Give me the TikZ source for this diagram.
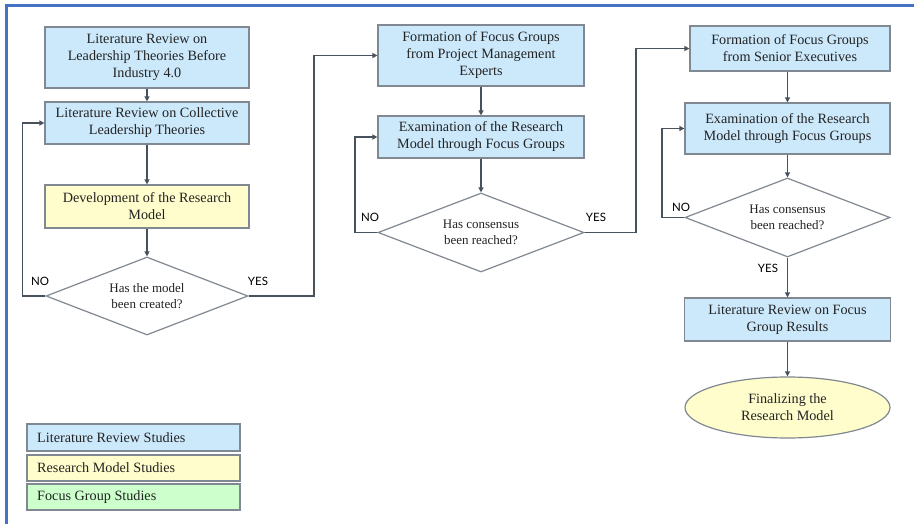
\documentclass[tikz,border=0pt]{standalone}
\usepackage{fontspec}
\setmainfont{Liberation Serif}
\newfontfamily\lblfont{Lato}
\usetikzlibrary{shapes.geometric,arrows.meta}
\definecolor{boxblue}{RGB}{204,233,252}
\definecolor{boxyellow}{RGB}{255,253,204}
\definecolor{boxgreen}{RGB}{204,255,204}
\definecolor{edgegray}{RGB}{128,136,145}
\definecolor{arrowgray}{RGB}{72,82,92}
\definecolor{textgray}{RGB}{35,35,35}
\definecolor{frameblue}{RGB}{68,114,196}
\tikzset{
  every node/.style={text=textgray},
  procbox/.style={draw=edgegray, line width=1.2pt, align=center, inner sep=2pt,
    font=\fontsize{14.2}{17}\selectfont},
  bluebox/.style={procbox, fill=boxblue},
  yellowbox/.style={procbox, fill=boxyellow},
  decision/.style={diamond, aspect=2.6, draw=edgegray, line width=1.2pt, fill=white,
    inner sep=0pt, align=center, font=\fontsize{13}{16}\selectfont},
  finalnode/.style={ellipse, draw=edgegray, line width=1.2pt, fill=boxyellow, inner sep=0pt,
    align=center, font=\fontsize{14.2}{17}\selectfont},
  legbox/.style={draw=edgegray, line width=1.2pt, minimum width=213pt, inner sep=0pt},
  legtext/.style={anchor=west, inner sep=0pt, font=\fontsize{14.2}{17}\selectfont},
  flow/.style={draw=arrowgray, line width=1.3pt, -{Triangle[length=5pt,width=5pt]}},
  yn/.style={font=\lblfont\fontsize{11.5}{12}\selectfont, inner sep=0pt, text=black},
}
\begin{document}
\begin{tikzpicture}[x=1pt,y=-1pt]
\useasboundingbox (0,0) rectangle (914,527);
\fill[white] (0,0) rectangle (914,527);
% frame
\draw[frameblue, line width=3pt] (914,6) -- (6,6) -- (6,524);

% column 1
\node[bluebox, minimum width=204pt, minimum height=61pt] (b1) at (147,57.5)
  {Literature Review on\\Leadership Theories Before\\Industry 4.0};
\node[bluebox, minimum width=204pt, minimum height=42pt] (b2) at (147,123)
  {Literature Review on Collective\\Leadership Theories};
\node[yellowbox, minimum width=204pt, minimum height=43pt] (b3) at (147,206.5)
  {Development of the Research\\Model};
\node[decision, minimum width=202pt, minimum height=78pt] (d1) at (147,296)
  {Has the model\\been created?};

% column 2
\node[bluebox, minimum width=206pt, minimum height=61pt] (b4) at (481,55.5)
  {Formation of Focus Groups\\from Project Management\\Experts};
\node[bluebox, minimum width=206pt, minimum height=42pt] (b5) at (481,137)
  {Examination of the Research\\Model through Focus Groups};
\node[decision, minimum width=206pt, minimum height=79pt] (d2) at (481,232.5)
  {Has consensus\\been reached?};

% column 3
\node[bluebox, minimum width=200pt, minimum height=45pt] (b6) at (790,48.5)
  {Formation of Focus Groups\\from Senior Executives};
\node[bluebox, minimum width=205pt, minimum height=51pt] (b7) at (787.5,128.5)
  {Examination of the Research\\Model through Focus Groups};
\node[decision, minimum width=205pt, minimum height=79pt] (d3) at (787.5,217.5)
  {Has consensus\\been reached?};
\node[bluebox, minimum width=206pt, minimum height=43pt] (b8) at (787.5,319.5)
  {Literature Review on Focus\\Group Results};
\node[finalnode, minimum width=205pt, minimum height=61pt] (fin) at (787.5,407.5)
  {Finalizing the\\Research Model};

% connectors
\draw[flow] (b1) -- (b2);
\draw[flow] (b2) -- (b3);
\draw[flow] (b3) -- (d1);
\draw[flow] (d1.west) -- ++(-23,0) |- (b2.west);
\draw[flow] (d1.east) -- (314,296) |- (b4.west);
\draw[flow] (b4) -- (b5);
\draw[flow] (b5) -- (d2);
\draw[flow] (d2.west) -- (355,232.5) |- (b5.west);
\draw[flow] (d2.east) -- (636,232.5) |- (b6.west);
\draw[flow] (b6.south -| b7) -- (b7);
\draw[flow] (b7) -- (d3);
\draw[flow] (d3.west) -- (662,217.5) |- (b7.west);
\draw[flow] (d3) -- (b8);
\draw[flow] (b8) -- (fin);

% labels
\node[yn] (no1) at (40,281) {NO};
\node[yn] (yes1) at (258,281) {YES};
\node[yn] (no2) at (370,217) {NO};
\node[yn] (yes2) at (596,217) {YES};
\node[yn] (no3) at (681,207) {NO};
\node[yn] (yes3) at (768,268) {YES};

% legend
\node[legbox, fill=boxblue, minimum height=27pt] (l1) at (133.5,437.5) {};
\node[legbox, fill=boxyellow, minimum height=26pt] (l2) at (133.5,468) {};
\node[legbox, fill=boxgreen, minimum height=26pt] (l3) at (133.5,497) {};
\node[legtext] (t1) at (37,437.5) {Literature Review Studies};
\node[legtext] (t2) at (37,468) {Research Model Studies};
\node[legtext] (t3) at (37,497) {Focus Group Studies};
\end{tikzpicture}
\end{document}
